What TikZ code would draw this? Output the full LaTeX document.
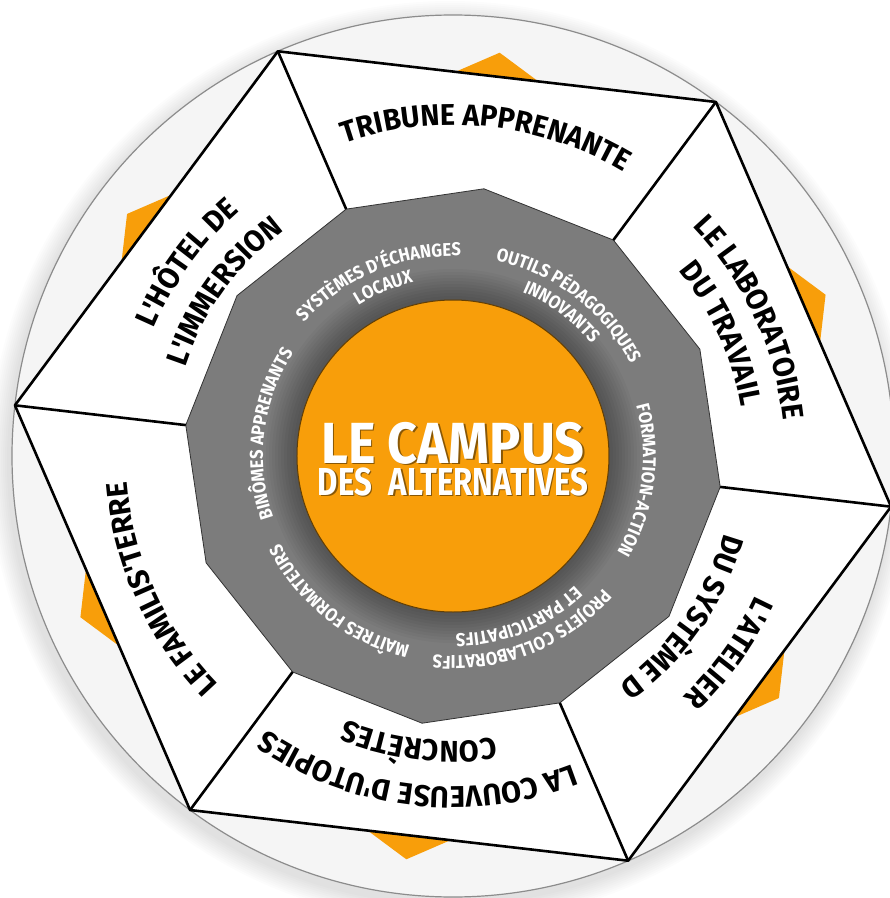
\documentclass[tikz,border=0pt]{standalone}
\usepackage{fontspec}
\setmainfont{Fira Sans}[FakeStretch=0.9]
\newfontfamily\narrowfont{Fira Sans}[FakeStretch=0.8]
\newfontfamily\wedgefam{Fira Sans}[FakeStretch=0.96]
\usetikzlibrary{decorations.text,positioning}
\definecolor{campusorange}{RGB}{248,158,10}
\definecolor{ringgrey}{RGB}{124,124,124}
\newcommand{\wedgefont}{\wedgefam\fontsize{30}{36}\selectfont\bfseries}
\newcommand{\ringfont}{\color{white}\fontsize{18.5}{22}\selectfont\bfseries}
% text along an arc, read clockwise: angle, baseline radius, font, text
\newcommand{\arclabel}[4]{%
  \path[decorate,decoration={text along path,text align=center,text={|#3|#4}}]
    ({#1+50}:#2) arc[start angle={#1+50},end angle={#1-50},radius=#2];}

\begin{document}
\begin{tikzpicture}[x=1pt,y=1pt,
  wedge/.style={draw=black,line width=2.6pt,line join=round},
  title/.style={text=white,inner sep=0pt}]
\useasboundingbox (-453,-442) rectangle (437,456);
\fill[white] (-453,-442) rectangle (437,456);
% soft shadow and outer disc
\foreach \k in {1,...,10}
	\fill[black,opacity=0.012] (-3,-6) circle ({441+2*\k});
\draw[fill=black!4,draw=black!45,line width=1.2pt] (0,0) circle (441);
% orange hexagon behind
\fill[campusorange] (83.4:406) \foreach \a in {1,...,5} { -- ({83.4+60*\a}:406) } -- cycle;
% white hexagon
\foreach \i in {0,...,5}
	\coordinate (h\i) at ({53.4+60*\i}:441);
\foreach \i in {0,...,11}
	\coordinate (g\i) at ({53.4+30*\i}:269);
\fill[white] (h0) -- (h1) -- (h2) -- (h3) -- (h4) -- (h5) -- cycle;
% grey ring
\draw[fill=ringgrey,draw=black!80,line width=0.8pt] (g0) \foreach \i in {1,...,11} { -- (g\i) } -- cycle;
\draw[wedge] (h0) -- (h1) -- (h2) -- (h3) -- (h4) -- (h5) -- cycle;
\foreach \i in {0,...,5}
	\draw[wedge] (h\i) -- ({53.4+60*\i}:269);
% shadow round the centre
\foreach \r in {157,160,...,187}
	\fill[black,opacity=0.03] (0,0) circle (\r);
\draw[fill=campusorange,draw=campusorange!40!black,line width=1pt] (0,0) circle (156);
% centre title
\node[title,text=campusorange!55!black,font=\fontsize{58}{60}\selectfont\bfseries] at (1.5,11.5) {LE CAMPUS};
\node[title,font=\fontsize{58}{60}\selectfont\bfseries] (0) at (0,13) {LE CAMPUS};
\node[title,text=campusorange!55!black,font=\narrowfont\fontsize{39}{42}\selectfont\bfseries] at (1.5,-27) {\hbox to 270pt{DES\hfill ALTERNATIVES}};
\node[title,font=\narrowfont\fontsize{39}{42}\selectfont\bfseries] (1) at (0,-25.5) {\hbox to 270pt{DES\hfill ALTERNATIVES}};
% wedge labels
\arclabel{84}{331}{\wedgefont}{TRIBUNE APPRENANTE}
\arclabel{25}{332}{\wedgefont}{LE LABORATOIRE}
\arclabel{24.5}{292}{\wedgefont}{DU TRAVAIL}
\arclabel{-35.5}{333}{\wedgefont}{L'ATELIER}
\arclabel{-35}{282}{\wedgefont}{DU SYSTÈME D}
\arclabel{-96.5}{331}{\wedgefont}{LA COUVEUSE D'UTOPIES}
\arclabel{-96.8}{285}{\wedgefont}{CONCRÈTES}
\arclabel{-155.6}{327}{\wedgefont}{LE FAMILIS'TERRE}
\arclabel{144}{325}{\wedgefont}{L'HÔTEL DE}
\arclabel{144.3}{282}{\wedgefont}{L'IMMERSION}
% ring labels
\arclabel{113}{200}{\ringfont}{SYSTÈMES D'ÉCHANGES}
\arclabel{112.5}{178}{\ringfont}{LOCAUX}
\arclabel{52.5}{200}{\ringfont}{OUTILS PÉDAGOGIQUES}
\arclabel{53}{178}{\ringfont}{INNOVANTS}
\arclabel{-7.5}{190}{\ringfont}{FORMATION-ACTION}
\arclabel{-68.5}{200}{\ringfont}{PROJETS COLLABORATIFS}
\arclabel{-68}{178}{\ringfont}{ET PARTICIPATIFS}
\arclabel{-128}{194}{\ringfont}{MAÎTRES FORMATEURS}
\arclabel{173}{190}{\ringfont}{BINÔMES APPRENANTS}
\end{tikzpicture}
\end{document}
